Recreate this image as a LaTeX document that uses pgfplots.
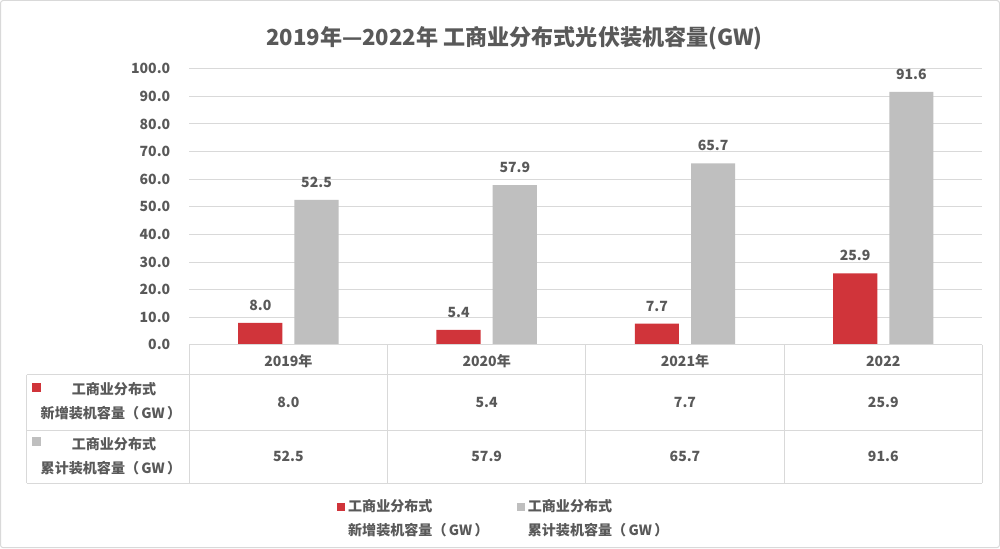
\documentclass[border=0pt]{standalone}
\usepackage{pgfplots}
\pgfplotsset{compat=1.18}
\usepackage{pgfplotstable}
\usepackage{fontspec}
\setmainfont{Noto Sans CJK SC}
\definecolor{txt}{HTML}{595959}
\definecolor{barred}{HTML}{D0343A}
\definecolor{bargray}{HTML}{BFBFBF}
\definecolor{gridc}{HTML}{D9D9D9}
\definecolor{framec}{HTML}{D9D9D9}

\pgfplotstableread{
x new cum
0 8.0 52.5
1 5.4 57.9
2 7.7 65.7
3 25.9 91.6
}\datatab

\begin{document}
\begin{tikzpicture}
\begin{scope}[x=0.75pt,y=-0.75pt,shift={(0pt,411.75pt)}]
  \draw[framec,line width=0.75pt,rounded corners=2pt,fill=white] (2,2) rectangle (997,547);
\end{scope}
\begin{axis}[
  at={(142.5pt,153pt)}, anchor=south west,
  scale only axis, width=592.5pt, height=206.25pt,
  xmin=-0.5, xmax=3.5, ymin=0, ymax=100,
  ybar=9pt, bar width=33pt,
  axis line style={draw=none},
  major tick length=0pt,
  ytick={0,10,...,100},
  ymajorgrids, grid style={gridc, line width=0.75pt},
  yticklabel style={anchor=east, inner sep=0pt, xshift=-14pt, text=txt, font=\bfseries\fontsize{10.5}{12}\selectfont,
    /pgf/number format/.cd, fixed, fixed zerofill, precision=1, assume math mode=true},
  xtick=data,
  xticklabels={2019年,2020年,2021年,2022},
  xticklabel style={anchor=center, inner sep=0pt, yshift=-12pt, text=txt, font=\bfseries\fontsize{10.5}{12}\selectfont},
  nodes near coords,
  nodes near coords style={anchor=south, inner sep=0pt, yshift=9pt, text=txt, font=\bfseries\fontsize{10.5}{12}\selectfont,
    /pgf/number format/.cd, fixed, fixed zerofill, precision=1, assume math mode=true},
  clip=false,
]
\addplot[fill=barred, draw=none] table[x=x, y=new] {\datatab};
\addplot[fill=bargray, draw=none] table[x=x, y=cum] {\datatab};
\end{axis}
\begin{scope}[x=0.75pt,y=-0.75pt,shift={(0pt,411.75pt)}]
  % title
  \node[text=txt, font=\bfseries\fontsize{16.5}{19}\selectfont] at (514,40) {2019年—2022年 工商业分布式光伏装机容量(GW)};
  % table lines
  \draw[gridc, line width=0.75pt] (190,345) -- (980,345);
  \draw[gridc, line width=0.75pt] (28,375) -- (980,375);
  \draw[gridc, line width=0.75pt] (28,430) -- (980,430);
  \draw[gridc, line width=0.75pt] (28,483) -- (980,483);
  \draw[gridc, line width=0.75pt] (28,375) -- (28,483);
  \foreach \xx in {190,387.5,585,782.5,980} \draw[gridc, line width=0.75pt] (\xx,345) -- (\xx,483);
  % row labels
  \fill[barred] (33,383) rectangle (42,392);
  \fill[bargray] (33,437) rectangle (42,446);
  \begin{scope}[every node/.style={text=txt, font=\bfseries\fontsize{10.5}{12}\selectfont, inner sep=0pt}]
  \node at (115,389) {工商业分布式};
  \node at (112,413) {新增装机容量（\,GW\,）};
  \node at (115,444) {工商业分布式};
  \node at (112,468) {累计装机容量（\,GW\,）};
  % values
  \node at (288.75,402) {8.0};
  \node at (486.25,402) {5.4};
  \node at (683.75,402) {7.7};
  \node at (881.25,402) {25.9};
  \node at (288.75,456) {52.5};
  \node at (486.25,456) {57.9};
  \node at (683.75,456) {65.7};
  \node at (881.25,456) {91.6};
  % legend
  \fill[barred] (337,502) rectangle (345,510);
  \node[anchor=west] at (348,506) {工商业分布式};
  \node[anchor=west] at (348,530) {新增装机容量（\,GW\,）};
  \fill[bargray] (516,502) rectangle (524,510);
  \node[anchor=west] at (527,506) {工商业分布式};
  \node[anchor=west] at (527,530) {累计装机容量（\,GW\,）};
  \end{scope}
\end{scope}
\end{tikzpicture}
\end{document}
